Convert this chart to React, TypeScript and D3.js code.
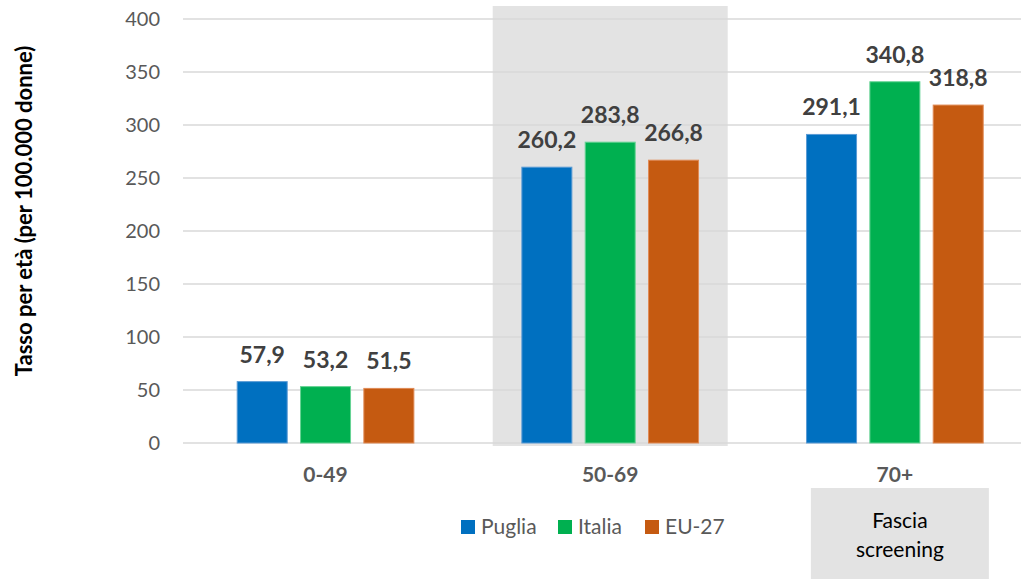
import React from "react";
import * as d3 from "d3";

const categories = ["0-49", "50-69", "70+"];
const seriesNames = ["Puglia", "Italia", "EU-27"];
const puglia = [57.9, 260.2, 291.1];
const italia = [53.2, 283.8, 340.8];
const eu27 = [51.5, 266.8, 318.8];
const yTicks = [0, 50, 100, 150, 200, 250, 300, 350, 400];
const colors = ["#0070C0", "#00B050", "#C55A11"];
const strokes = ["#5b9bd5", "#66d394", "#e08a55"];
const highlighted = "50-69";
const screeningLabel = ["Fascia", "screening"];
const yTitle = "Tasso per età (per 100.000 donne)";

const W = 1021;
const H = 579;
const FONT = "Lato, 'Open Sans', sans-serif";

export default function App() {
  const values = [puglia, italia, eu27];
  const y = d3.scaleLinear().domain([0, 400]).range([443, 19]);
  const x0 = d3.scaleBand<string>().domain(categories).range([183.2, 183.2 + 284.67 * 3]).padding(0);
  const x1 = d3
    .scaleBand<string>()
    .domain(seriesNames)
    .range([(x0.bandwidth() - 190) / 2, (x0.bandwidth() + 190) / 2])
    .paddingInner(13.33 / 63.33)
    .paddingOuter(13.33 / 63.33 / 2);
  const fmt = (v: number) => v.toFixed(1).replace(".", ",");
  const hx = (x0(highlighted) as number) + x0.bandwidth() / 2;
  const boxCx = (x0("70+") as number) + x0.bandwidth() / 2 + 5;

  return (
    <div style={{ position: "absolute", left: 0, top: 0 }}>
      <svg width={W} height={H} style={{ display: "block", background: "#fff" }}>
        <rect x={hx - 117.5} y={6} width={235} height={440} fill="#e3e3e3" />
        {yTicks.map((t) => (
          <g key={t}>
            <line x1={183} x2={W} y1={y(t)} y2={y(t)} stroke="#d9d9d9" strokeWidth={1.5} />
            <text
              x={160}
              y={y(t)}
              dy="0.36em"
              textAnchor="end"
              fontFamily={FONT}
              fontSize={20}
              fill="#595959"
            >
              {t}
            </text>
          </g>
        ))}
        {categories.map((c, ci) => (
          <g key={c} transform={`translate(${x0(c)},0)`}>
            {seriesNames.map((s, si) => {
              const v = values[si][ci];
              const bx = x1(s) as number;
              return (
                <g key={s}>
                  <rect
                    x={bx}
                    y={y(v)}
                    width={x1.bandwidth()}
                    height={y(0) - y(v)}
                    fill={colors[si]}
                    stroke={strokes[si]}
                    strokeWidth={1}
                  />
                  <text
                    x={bx + x1.bandwidth() / 2}
                    y={y(v) - 19}
                    textAnchor="middle"
                    fontFamily={FONT}
                    fontWeight="bold"
                    fontSize={23}
                    fill="#404040"
                  >
                    {fmt(v)}
                  </text>
                </g>
              );
            })}
            <text
              x={x0.bandwidth() / 2}
              y={482}
              textAnchor="middle"
              fontFamily={FONT}
              fontWeight="bold"
              fontSize={21}
              fill="#595959"
            >
              {c}
            </text>
          </g>
        ))}
        <text
          transform={`translate(32,211) rotate(-90)`}
          textAnchor="middle"
          fontFamily={FONT}
          fontWeight="bold"
          fontSize={22}
          fill="#000"
        >
          {yTitle}
        </text>
        {seriesNames.map((s, i) => {
          const lx = [461, 558, 645][i];
          return (
            <g key={s}>
              <rect x={lx} y={520} width={14} height={14} fill={colors[i]} />
              <text x={lx + 20} y={534} fontFamily={FONT} fontSize={21} fill="#595959">
                {s}
              </text>
            </g>
          );
        })}
        <rect x={boxCx - 89} y={488} width={178} height={91} fill="#e3e3e3" />
        {screeningLabel.map((l, i) => (
          <text
            key={l}
            x={boxCx}
            y={528 + i * 29}
            textAnchor="middle"
            fontFamily={FONT}
            fontSize={21}
            fill="#000"
          >
            {l}
          </text>
        ))}
      </svg>
    </div>
  );
}
